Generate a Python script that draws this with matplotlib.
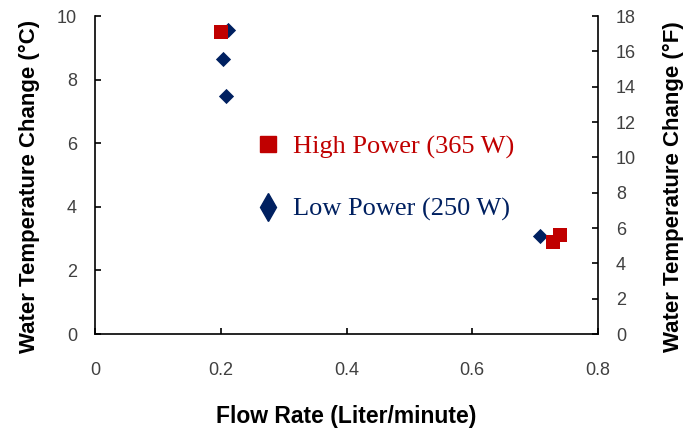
from matplotlib import pyplot as plt
from matplotlib.lines import Line2D

# data
high_x = [0.200, 0.728, 0.740]
high_y = [9.50, 2.88, 3.10]
low_x = [0.212, 0.204, 0.208, 0.708]
low_y = [9.56, 8.65, 7.48, 3.07]

x_ticks = [0, 0.2, 0.4, 0.6, 0.8]
x_tick_labels = ["0", "0.2", "0.4", "0.6", "0.8"]
c_ticks = [0, 2, 4, 6, 8, 10]
f_ticks = [0, 2, 4, 6, 8, 10, 12, 14, 16, 18]

red = "#C00000"
navy = "#002060"
tick_col = "#404040"

plt.rcParams['font.family'] = ['Liberation Sans', 'DejaVu Sans']

fig = plt.figure(figsize=(6.85, 4.28), dpi=100)
ax = fig.add_axes([0.1387, 0.2196, 0.7343, 0.743])

ax.scatter(low_x, low_y, marker='D', s=60, color=navy, zorder=3, linewidths=0)
ax.scatter(high_x, high_y, marker='s', s=95, color=red, zorder=4, linewidths=0)

ax.set_xlim(0, 0.8)
ax.set_ylim(0, 10)
ax.set_xticks(x_ticks)
ax.set_xticklabels(x_tick_labels)
ax.set_yticks(c_ticks)
ax.spines['top'].set_visible(False)
ax.spines['right'].set_visible(False)
for s in ['left', 'bottom']:
    ax.spines[s].set_linewidth(1.2)
ax.tick_params(direction='in', length=4, width=1.2, labelsize=13, labelcolor=tick_col)
ax.tick_params(axis='x', pad=20)
ax.tick_params(axis='y', pad=13)
ax.set_xlabel("Flow Rate (Liter/minute)", fontsize=16.5, fontweight='bold', labelpad=19)
ax.set_ylabel("Water Temperature Change (°C)", fontsize=16, fontweight='bold', labelpad=12)
ax.yaxis.label.set_y(0.465)

ax2 = ax.twinx()
ax2.set_ylim(0, 18)
ax2.set_yticks(f_ticks)
for s in ['top', 'left', 'bottom']:
    ax2.spines[s].set_visible(False)
ax2.spines['right'].set_linewidth(1.2)
ax2.tick_params(direction='in', length=4, width=1.2, labelsize=13, labelcolor=tick_col, pad=13)
ax2.set_ylabel("Water Temperature Change (°F)", fontsize=16, fontweight='bold', labelpad=19)
ax2.yaxis.label.set_y(0.465)

handles = [
    Line2D([], [], linestyle='none', marker='s', markersize=11, color=red),
    Line2D([], [], linestyle='none', marker='d', markersize=14, color=navy),
]
leg = ax.legend(handles, ["High Power (365 W)", "Low Power (250 W)"],
                frameon=False, loc='upper left', bbox_to_anchor=(0.27, 0.70),
                prop={'family': 'Liberation Serif', 'size': 19},
                handletextpad=0.45, labelspacing=1.45, handlelength=1.0)
for txt, col in zip(leg.get_texts(), [red, navy]):
    txt.set_color(col)

plt.savefig("out.png", dpi=100)
